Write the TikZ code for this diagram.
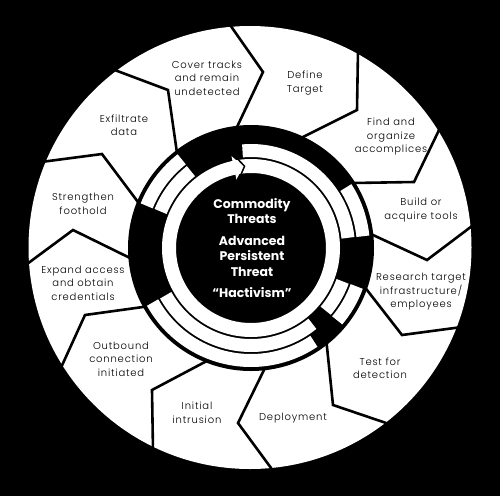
\documentclass[tikz,border=0pt]{standalone}
\usepackage{fontspec}
\setmainfont{Poppins}
\IfFontExistsTF{Poppins Light}
  {\newfontfamily\lblfont[LetterSpace=8]{Poppins Light}}
  {\newfontfamily\lblfont[LetterSpace=8]{Poppins}}
\usetikzlibrary{calc}
\tikzset{
  seg/.style={black, line width=2.6pt, line join=miter},
  lbl/.style={font=\lblfont\fontsize{10}{13.5}\selectfont, align=center, text=black, inner sep=0pt},
  ctr/.style={font=\bfseries\fontsize{12.5}{15.5}\selectfont, align=center, text=white, inner sep=0pt},
  band/.style={white, line width=13pt},
}
\newcommand{\wband}[3]{\draw[band] ($(C)+(#2:#1)$) arc[start angle=#2, end angle=#3, radius=#1];}
\newcommand{\segline}[3]{\draw[seg] ($(#1)!-7pt!(#2)$) -- (#2) -- (#3);}
\begin{document}
\begin{tikzpicture}[x=1pt,y=-1pt]
\useasboundingbox (0,0) rectangle (500,496);
\fill[black] (0,0) rectangle (500,496);
\coordinate (O) at (250,247.5);
\coordinate (C) at (251,248);
\fill[white] (O) circle[radius=221.5pt];
% segment boundaries: inner point, kink, outer point
\coordinate (i1) at (237,127); \coordinate (k1) at (263,72);  \coordinate (o1) at (228,22);
\coordinate (i2) at (303,137); \coordinate (k2) at (357,110); \coordinate (o2) at (358,50);
\coordinate (i3) at (353,183); \coordinate (k3) at (414,182); \coordinate (o3) at (440,128);
\coordinate (i4) at (373,235); \coordinate (k4) at (427,260); \coordinate (o4) at (476,223);
\coordinate (i5) at (367,290); \coordinate (k5) at (402,335); \coordinate (o5) at (462,327);
\coordinate (i6) at (327,347); \coordinate (k6) at (333,405); \coordinate (o6) at (392,425);
\coordinate (i7) at (263,372); \coordinate (k7) at (238,423); \coordinate (o7) at (274,472);
\coordinate (i8) at (203,363); \coordinate (k8) at (152,390); \coordinate (o8) at (153,451);
\coordinate (i9) at (143,307); \coordinate (k9) at (85,315);  \coordinate (o9) at (59,372);
\coordinate (i10) at (128,257); \coordinate (k10) at (73,230); \coordinate (o10) at (23,267);
\coordinate (i11) at (138,202); \coordinate (k11) at (102,154); \coordinate (o11) at (41,162);
\coordinate (i12) at (177,153); \coordinate (k12) at (168,90); \coordinate (o12) at (112,69);
\foreach \n in {1,...,12}{\segline{i\n}{k\n}{o\n}}
% inner black disk
\fill[black] (C) circle[radius=123pt];
% outer band L2
\wband{112.5pt}{6}{32.5}
\wband{112.5pt}{128}{158}
\wband{112.5pt}{209}{304}
\wband{112.5pt}{320}{340}
% middle band L1
\wband{97.5pt}{6}{95}
\wband{97.5pt}{128}{158}
\wband{97.5pt}{209}{309}
\wband{97.5pt}{320}{340}
% inner ring L0 with arrow
\draw[white, line width=14pt] (C) circle[radius=82pt];
\fill[white] ($(C)+(102:70pt)$) -- ($(C)+(95.5:82pt)$) -- ($(C)+(102:94pt)$) -- cycle;
\draw[black, line width=1.5pt] ($(C)+(101:68pt)$) -- ($(C)+(94.5:82pt)$) -- ($(C)+(101:96pt)$);
% labels
\node[lbl] (cover) at (207,78) {Cover tracks\\and remain\\undetected};
\node[lbl] (define) at (305,83) {Define\\Target};
\node[lbl] (find) at (391,137) {Find and\\organize\\accomplices};
\node[lbl] (build) at (421,210) {Build or\\acquire tools};
\node[lbl] (research) at (421,292) {Research target\\infrastructure/\\employees};
\node[lbl] (test) at (380,368) {Test for\\detection};
\node[lbl] (deploy) at (293,418) {Deployment};
\node[lbl] (initial) at (197,413) {Initial\\intrusion};
\node[lbl] (outbound) at (121,359) {Outbound\\connection\\initiated};
\node[lbl] (expand) at (83,283) {Expand access\\and obtain\\credentials};
\node[lbl] (strength) at (83,204) {Strengthen\\foothold};
\node[lbl] (exfil) at (124,125) {Exfiltrate\\data};
% center
\node[ctr] (commodity) at (252,211) {Commodity\\Threats};
\node[ctr] (apt) at (252,256) {Advanced\\Persistent\\Threat};
\node[ctr] (hact) at (252,293) {“Hactivism”};
\end{tikzpicture}
\end{document}
